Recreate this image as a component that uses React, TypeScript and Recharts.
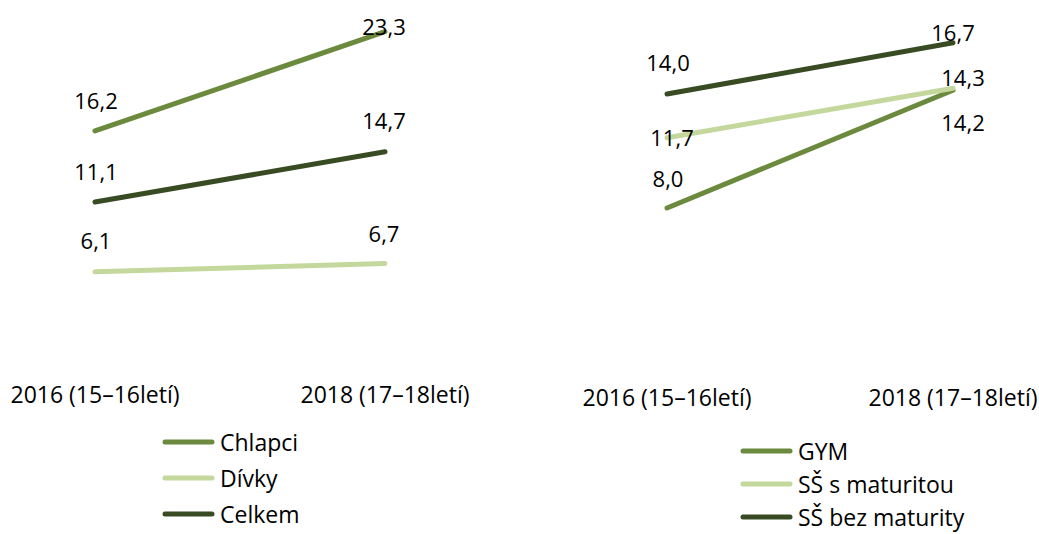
import { LineChart, Line, XAxis, YAxis, Legend, LabelList } from "recharts";

const categories = ["2016 (15–16letí)", "2018 (17–18letí)"];

// levý graf – pohlaví
const chlapci = [16.2, 23.3];
const divky = [6.1, 6.7];
const celkem = [11.1, 14.7];

// pravý graf – typ školy
const gym = [8.0, 14.2];
const ssMaturita = [11.7, 14.3];
const ssBezMaturity = [14.0, 16.7];

const leftNames = ["Chlapci", "Dívky", "Celkem"];
const rightNames = ["GYM", "SŠ s maturitou", "SŠ bez maturity"];

const MID = "#6b8a3d";
const LIGHT = "#c4d89e";
const DARK = "#384b22";
const FONT = "'Open Sans', sans-serif";

const leftData = categories.map((c, i) => ({
  name: c,
  chlapci: chlapci[i],
  divky: divky[i],
  celkem: celkem[i],
}));

const rightData = categories.map((c, i) => ({
  name: c,
  gym: gym[i],
  ssMaturita: ssMaturita[i],
  ssBezMaturity: ssBezMaturity[i],
}));

// posun popisků dat (jako v Excelu ručně posunuté)
const labelShift: Record<string, { dx: number; dy: number }[]> = {
  chlapci: [{ dx: 1, dy: -31 }, { dx: -1, dy: -6 }],
  divky: [{ dx: 1, dy: -32 }, { dx: -1, dy: -30 }],
  celkem: [{ dx: 1, dy: -31 }, { dx: -1, dy: -32 }],
  gym: [{ dx: 1, dy: -30 }, { dx: 10, dy: 32 }],
  ssMaturita: [{ dx: 5, dy: -1 }, { dx: 10, dy: -11 }],
  ssBezMaturity: [{ dx: 1, dy: -32 }, { dx: 0, dy: -11 }],
};

const fmt = (v: number) => v.toFixed(1).replace(".", ",");

function makeLabel(key: string) {
  return (props: any) => {
    const { x, y, value, index } = props;
    const s = labelShift[key][index] || { dx: 0, dy: -30 };
    return (
      <text
        x={x + s.dx}
        y={y + s.dy}
        textAnchor="middle"
        dominantBaseline="central"
        fontSize={22}
        fontFamily={FONT}
        fill="#000"
      >
        {fmt(value)}
      </text>
    );
  };
}

function LegendBox({ payload, order, rowHeight }: { payload?: any[]; order: string[]; rowHeight: number }) {
  const items = [...(payload || [])].sort((a, b) => order.indexOf(a.value) - order.indexOf(b.value));
  return (
    <div style={{ fontFamily: FONT, fontSize: 23, color: "#000" }}>
      {items.map((p: any) => (
        <div key={p.value} style={{ display: "flex", alignItems: "center", height: rowHeight }}>
          <svg width={54} height={8} style={{ marginRight: 4 }}>
            <line x1={3} y1={4} x2={50} y2={4} stroke={p.color} strokeWidth={5} strokeLinecap="round" />
          </svg>
          <span style={{ whiteSpace: "nowrap" }}>{p.value}</span>
        </div>
      ))}
    </div>
  );
}

const lineProps = {
  type: "linear" as const,
  strokeWidth: 5,
  strokeLinecap: "round" as const,
  dot: false,
  activeDot: false,
  isAnimationActive: false,
};

const tickStyle = { fontSize: 23, fontFamily: FONT, fill: "#000" };

export default function App() {
  return (
    <div style={{ position: "absolute", left: 0, top: 0, width: 1039, height: 534, background: "#fff" }}>
      <div style={{ position: "absolute", left: 0, top: 0 }}>
        <LineChart width={520} height={534} data={leftData} margin={{ top: 8, right: 135, left: 95, bottom: 147 }}>
          <XAxis
            dataKey="name"
            axisLine={false}
            tickLine={false}
            tickSize={0}
            tickMargin={30}
            interval={0}
            tick={tickStyle}
          />
          <YAxis hide domain={[0, 25]} />
          <Legend
            layout="vertical"
            align="center"
            verticalAlign="middle"
            wrapperStyle={{ left: 162, top: 424, width: "auto" }}
            content={(p: any) => <LegendBox payload={p.payload} order={leftNames} rowHeight={36} />}
          />
          <Line {...lineProps} dataKey="chlapci" name={leftNames[0]} stroke={MID}>
            <LabelList dataKey="chlapci" content={makeLabel("chlapci")} />
          </Line>
          <Line {...lineProps} dataKey="divky" name={leftNames[1]} stroke={LIGHT}>
            <LabelList dataKey="divky" content={makeLabel("divky")} />
          </Line>
          <Line {...lineProps} dataKey="celkem" name={leftNames[2]} stroke={DARK}>
            <LabelList dataKey="celkem" content={makeLabel("celkem")} />
          </Line>
        </LineChart>
      </div>
      <div style={{ position: "absolute", left: 520, top: 0 }}>
        <LineChart width={519} height={534} data={rightData} margin={{ top: 18, right: 86, left: 147, bottom: 144 }}>
          <XAxis
            dataKey="name"
            axisLine={false}
            tickLine={false}
            tickSize={0}
            tickMargin={30}
            interval={0}
            tick={tickStyle}
          />
          <YAxis hide domain={[0, 18]} />
          <Legend
            layout="vertical"
            align="center"
            verticalAlign="middle"
            wrapperStyle={{ left: 220, top: 434, width: "auto" }}
            content={(p: any) => <LegendBox payload={p.payload} order={rightNames} rowHeight={33} />}
          />
          <Line {...lineProps} dataKey="gym" name={rightNames[0]} stroke={MID}>
            <LabelList dataKey="gym" content={makeLabel("gym")} />
          </Line>
          <Line {...lineProps} dataKey="ssMaturita" name={rightNames[1]} stroke={LIGHT}>
            <LabelList dataKey="ssMaturita" content={makeLabel("ssMaturita")} />
          </Line>
          <Line {...lineProps} dataKey="ssBezMaturity" name={rightNames[2]} stroke={DARK}>
            <LabelList dataKey="ssBezMaturity" content={makeLabel("ssBezMaturity")} />
          </Line>
        </LineChart>
      </div>
    </div>
  );
}
